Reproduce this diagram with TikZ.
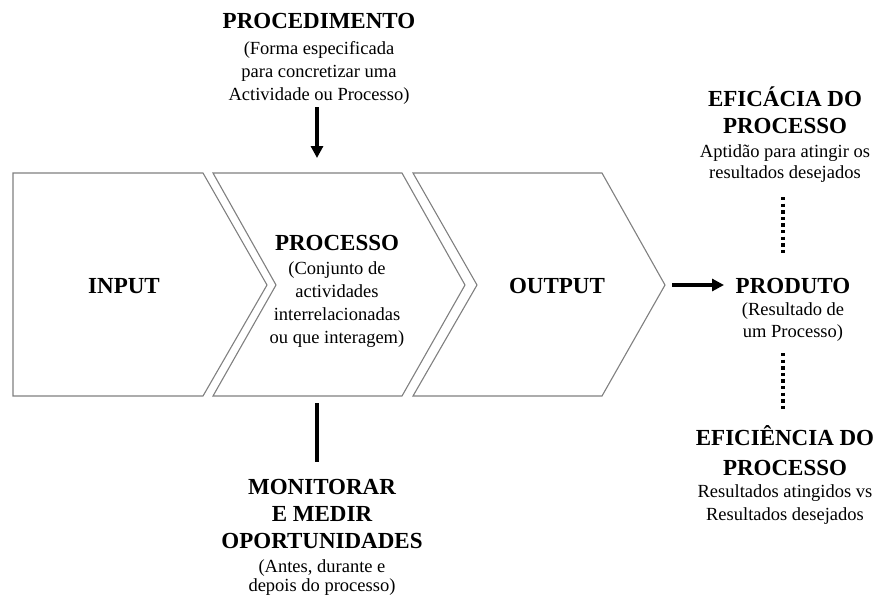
\documentclass[tikz,border=0pt]{standalone}
\usepackage{fontspec}
\setmainfont{Liberation Serif}
\usetikzlibrary{arrows.meta}
\begin{document}
\begin{tikzpicture}[x=1pt,y=-1pt,
  chevron/.style={draw=black!50,line width=1.1pt,fill=white,line join=miter},
  heavy/.style={line width=3.6pt,black},
  flow/.style={heavy,-{Triangle[width=12pt,length=12pt]}},
  dotline/.style={line width=3.6pt,black,dash pattern=on 3.4pt off 3.2pt},
  label/.style={inner sep=0pt,align=center,text=black},
  big/.style={label,font=\fontsize{23}{26}\selectfont\bfseries}]
\useasboundingbox (0,0) rectangle (876,595);
\newcommand{\ttl}{\fontsize{23}{26}\selectfont\bfseries}

% three process chevrons
\draw[chevron] (13,173) -- (203,173) -- (267,285) -- (203,396) -- (13,396) -- cycle;
\draw[chevron] (213,173) -- (402,173) -- (465,285) -- (402,396) -- (213,396) -- (276,285) -- cycle;
\draw[chevron] (413,173) -- (602,173) -- (665,285) -- (602,396) -- (413,396) -- (477,285) -- cycle;

% texts inside the chevrons (multi-line nodes are placed by their last baseline)
\node[big,anchor=base] (input) at (124,293) {INPUT};
\node[big,anchor=base] (output) at (557,293) {OUTPUT};
\node[label,anchor=base,font=\fontsize{18.5}{23}\selectfont] (processo) at (337,343.5)
  {{\ttl PROCESSO}\\[1.5pt] (Conjunto de\\ actividades\\ interrelacionadas\\ ou que interagem)};

% procedure above
\node[label,anchor=base,font=\fontsize{18.5}{23}\selectfont] (proced) at (319,100.5)
  {{\ttl PROCEDIMENTO}\\[3.5pt] (Forma especificada\\ para concretizar uma\\ Actividade ou Processo)};

% monitoring below
\node[label,anchor=base,font=\fontsize{18.5}{19.5}\selectfont] (monitor) at (322,591.5)
  {{\ttl MONITORAR}\\[7.5pt] {\ttl E MEDIR}\\[7.5pt] {\ttl OPORTUNIDADES}\\[4pt] (Antes, durante e\\ depois do processo)};

% product and its measures on the right
\node[label,anchor=base,font=\fontsize{18.5}{22}\selectfont] (produto) at (793,337.5)
  {{\ttl PRODUTO}\\[0.5pt] (Resultado de\\ um Processo)};
\node[label,anchor=base,font=\fontsize{18.5}{21}\selectfont] (eficacia) at (785,178.5)
  {{\ttl EFICÁCIA DO}\\[6pt] {\ttl PROCESSO}\\[3.5pt] Aptidão para atingir os\\ resultados desejados};
\node[label,anchor=base,font=\fontsize{18.5}{23.5}\selectfont] (eficiencia) at (785,520.5)
  {{\ttl EFICIÊNCIA DO}\\[6.5pt] {\ttl PROCESSO}\\[-2pt] Resultados atingidos vs\\ Resultados desejados};

% connector end points
\coordinate (procA) at (317,107);
\coordinate (procB) at (317,158);
\coordinate (monA) at (317,403);
\coordinate (monB) at (317,462);
\coordinate (outA) at (672,285);
\coordinate (outB) at (724,285);
\coordinate (effA) at (783,197);
\coordinate (effB) at (783,254);
\coordinate (ficA) at (783,353);
\coordinate (ficB) at (783,411);

\draw[flow] (procA) -- (procB);
\draw[heavy] (monA) -- (monB);
\draw[flow] (outA) -- (outB);
\draw[dotline] (effA) -- (effB);
\draw[dotline] (ficA) -- (ficB);
\end{tikzpicture}
\end{document}
